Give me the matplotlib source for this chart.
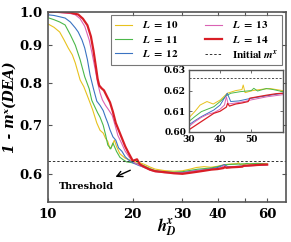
import numpy as np
import matplotlib
matplotlib.use("Agg")
import matplotlib.pyplot as plt
from matplotlib.font_manager import FontProperties

plt.rcParams["mathtext.fontset"] = "stix"

# ── Data ──────────────────────────────────────────────────────────────────────
h_L10 = [10, 10.5, 11, 11.4, 11.8, 12.2, 12.5, 13.0, 13.4, 13.9, 14.4, 14.9, 15.3,
         15.7, 16.0, 16.3, 16.6, 16.9, 17.2, 17.5, 18.0, 18.8, 19.5, 20, 21, 22, 23,
         24, 26, 28, 30, 32, 33.6, 35.8, 37.8, 40.1, 42.3, 45, 47.0, 47.4, 48, 50.4,
         53.7, 56, 60]
m_L10 = [0.962, 0.952, 0.938, 0.915, 0.892, 0.873, 0.851, 0.807, 0.790, 0.762, 0.735,
         0.705, 0.689, 0.683, 0.672, 0.665, 0.650, 0.657, 0.668, 0.655, 0.640, 0.631,
         0.628, 0.625, 0.623, 0.619, 0.614, 0.610, 0.607, 0.606, 0.6068, 0.610, 0.613,
         0.6147, 0.6135, 0.6155, 0.6187, 0.620, 0.6205, 0.6227, 0.619, 0.620, 0.6207,
         0.621, 0.620]

h_L11 = [10, 10.5, 11, 11.5, 12, 12.5, 13, 13.5, 14.0, 14.3, 14.7, 15.0, 15.3, 15.7,
         16.0, 16.3, 16.7, 17.0, 17.5, 18.0, 18.5, 19, 20, 21, 22, 23, 24, 26, 28, 30,
         32, 34, 36, 38, 40, 42, 43.4, 46.6, 50, 50.8, 52, 54.8, 57, 60]
m_L11 = [0.981, 0.975, 0.968, 0.959, 0.930, 0.900, 0.860, 0.815, 0.785, 0.757, 0.740,
         0.728, 0.718, 0.700, 0.680, 0.658, 0.650, 0.662, 0.645, 0.633, 0.628, 0.624,
         0.622, 0.620, 0.616, 0.611, 0.607, 0.605, 0.604, 0.605, 0.6075, 0.6098, 0.611,
         0.6122, 0.6147, 0.6175, 0.6187, 0.6195, 0.6200, 0.6211, 0.6198, 0.621, 0.6205,
         0.6195]

h_L12 = [10, 10.5, 11, 11.5, 12, 12.5, 12.8, 13.2, 13.5, 13.8, 14.1, 14.5, 14.9, 15.3,
         15.7, 16.0, 16.3, 16.6, 17.0, 17.4, 17.8, 18.3, 18.8, 19.3, 20, 21, 22, 23, 24,
         26, 28, 30, 32, 34, 36, 38, 40, 40.7, 42.3, 43.4, 46, 50, 55, 60]
m_L12 = [0.990, 0.988, 0.984, 0.980, 0.968, 0.950, 0.938, 0.915, 0.892, 0.860, 0.820,
         0.785, 0.755, 0.745, 0.733, 0.718, 0.705, 0.690, 0.675, 0.668, 0.652, 0.645,
         0.634, 0.628, 0.622, 0.617, 0.613, 0.609, 0.606, 0.604, 0.603, 0.6034, 0.6055,
         0.6074, 0.609, 0.6106, 0.613, 0.6147, 0.6187, 0.6147, 0.615, 0.6163, 0.6175,
         0.6187]

h_L13 = [10, 11, 12, 12.5, 13, 13.5, 14.0, 14.3, 14.7, 15.0, 15.3, 15.6, 16.0, 16.4,
         16.9, 17.3, 17.7, 18.3, 18.8, 19.5, 20.3, 21, 22, 23, 24, 26, 28, 30, 32, 34,
         36, 38, 40, 41.4, 42.0, 42.6, 45, 48, 50, 55, 60]
m_L13 = [0.999, 0.997, 0.994, 0.990, 0.978, 0.955, 0.915, 0.881, 0.835, 0.800, 0.775,
         0.758, 0.745, 0.735, 0.722, 0.700, 0.678, 0.660, 0.645, 0.632, 0.622, 0.618,
         0.613, 0.608, 0.605, 0.603, 0.6025, 0.6026, 0.605, 0.607, 0.6085, 0.6093, 0.611,
         0.613, 0.617, 0.6135, 0.614, 0.6148, 0.6155, 0.617, 0.618]

h_L14 = [10, 11, 12, 12.8, 13.3, 13.8, 14.2, 14.5, 14.8, 15.0, 15.2, 15.5, 15.8, 16.2,
         16.6, 17.0, 17.4, 17.8, 18.3, 18.8, 19.3, 20.0, 20.7, 21.2, 22, 23, 24, 26, 28,
         30, 32, 34, 36, 38, 40, 42, 42.4, 43, 45, 47, 49, 49.5, 52, 55, 58, 60]
m_L14 = [1.0, 0.999, 0.997, 0.991, 0.978, 0.958, 0.925, 0.885, 0.840, 0.810, 0.793,
         0.786, 0.781, 0.766, 0.752, 0.730, 0.705, 0.690, 0.672, 0.655, 0.642, 0.626,
         0.629, 0.619, 0.614, 0.609, 0.606, 0.604, 0.602, 0.601, 0.603, 0.605, 0.607,
         0.609, 0.610, 0.612, 0.6138, 0.6125, 0.6135, 0.614, 0.6147, 0.6163, 0.617,
         0.6178, 0.6185, 0.6187]

m_initial = 0.626

y_ticks = [0.6, 0.7, 0.8, 0.9, 1.0]
y_ticklabels = ["0.6", "0.7", "0.8", "0.9", "1.0"]
x_ticks = [10, 20, 30, 40, 50, 60]
x_ticklabels = ["10", "20", "30", "40", "", "60"]
inset_x_ticks = [30, 40, 50]
inset_y_ticks = [0.60, 0.61, 0.62, 0.63]
inset_y_ticklabels = ["0.60", "0.61", "0.62", "0.63"]

series = [
    (h_L10, m_L10, "#E8C21E", 0.8, r"$\mathbfit{L}\ \mathbf{=\ 10}$"),
    (h_L11, m_L11, "#4CB84A", 0.8, r"$\mathbfit{L}\ \mathbf{=\ 11}$"),
    (h_L12, m_L12, "#3A73C2", 0.8, r"$\mathbfit{L}\ \mathbf{=\ 12}$"),
    (h_L13, m_L13, "#DA62B4", 0.8, r"$\mathbfit{L}\ \mathbf{=\ 13}$"),
    (h_L14, m_L14, "#D91E26", 1.6, r"$\mathbfit{L}\ \mathbf{=\ 14}$"),
]

SPINE = "#555555"
SERIF = ["DejaVu Serif", "DejaVu Sans"]
TICKFONT = dict(fontfamily=SERIF, fontweight="bold", fontsize=9.5)

# ── Figure ───────────────────────────────────────────────────────────────────
fig = plt.figure(figsize=(2.91, 2.42), dpi=100)
ax = fig.add_axes([0.165, 0.165, 0.818, 0.787])

for h, m, c, lw, lab in series:
    ax.plot(h, m, color=c, lw=lw, label=lab)
ax.axhline(m_initial, color="#333333", lw=0.7, ls=(0, (2.5, 2)),
           label=r"$\mathbf{Initial}\ \mathbfit{m^x}$")

ax.set_xscale("log")
ax.set_yscale("log")
ax.set_xlim(10, 70)
ax.set_ylim(0.55, 1.0)

ax.set_xticks(x_ticks, x_ticklabels, **TICKFONT)
ax.set_xticks([], minor=True)
ax.set_yticks(y_ticks, y_ticklabels, **TICKFONT)
ax.set_yticks([], minor=True)
ax.tick_params(direction="in", top=True, right=True, length=3,
               width=0.8, color=SPINE, pad=4)
for s in ax.spines.values():
    s.set_color(SPINE)
    s.set_linewidth(1.2)

ax.set_xlabel(r"$\mathbfit{h}_{\mathbfit{D}}^{\mathbfit{x}}$", fontsize=12, labelpad=-3)
# plain-text y label (no mathtext)
ax.set_ylabel("1 - m\u02e3(DEA)", fontsize=10, fontfamily=SERIF, fontweight="bold",
              fontstyle="italic", labelpad=2)

leg = ax.legend(loc="upper right", bbox_to_anchor=(0.985, 0.982), ncol=2,
                prop=FontProperties(size=8),
                frameon=True, fancybox=False, edgecolor=SPINE, borderaxespad=0,
                handlelength=1.5, handletextpad=0.9, columnspacing=2.4,
                labelspacing=0.3, borderpad=0.4)
leg.get_frame().set_linewidth(0.8)

# Threshold note
ax.annotate("", xy=(17.0, 0.593), xytext=(20.0, 0.610),
            arrowprops=dict(arrowstyle="->", color="black", lw=1.0))
ax.text(13.7, 0.578, "Threshold", fontsize=7, fontfamily=SERIF, fontweight="bold",
        ha="center", va="center")

# ── Inset ────────────────────────────────────────────────────────────────────
axin = fig.add_axes([0.649, 0.455, 0.322, 0.256])
for h, m, c, lw, lab in series:
    axin.plot(h, m, color=c, lw=0.7 if lw < 1 else 0.9)
axin.axhline(m_initial, color="#333333", lw=0.6, ls=(0, (2.5, 2)))
axin.set_xlim(30, 60)
axin.set_ylim(0.60, 0.63)
axin.set_xticks(inset_x_ticks, [str(v) for v in inset_x_ticks],
                fontfamily=SERIF, fontweight="bold", fontsize=6.5)
axin.set_yticks(inset_y_ticks, inset_y_ticklabels,
                fontfamily=SERIF, fontweight="bold", fontsize=6.5)
axin.tick_params(direction="in", top=True, right=True, length=2,
                 width=0.6, color=SPINE, pad=2)
for s in axin.spines.values():
    s.set_color(SPINE)
    s.set_linewidth(1.0)

fig.savefig("out.png", dpi=100)
